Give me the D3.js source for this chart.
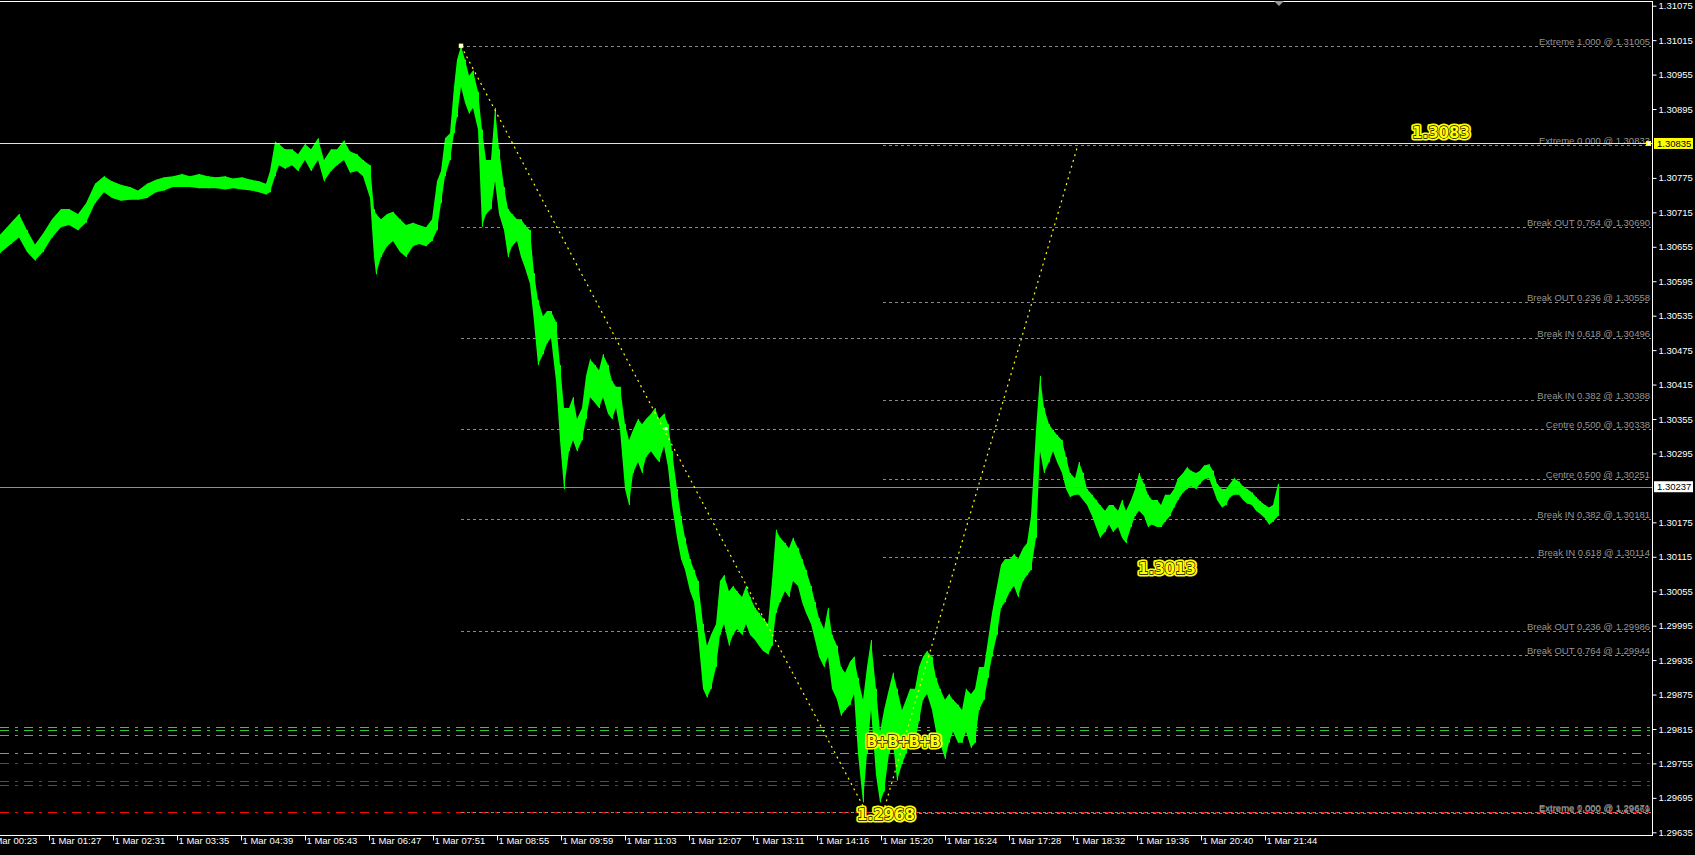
<!DOCTYPE html>
<html><head><meta charset="utf-8">
<script src="https://cdn.jsdelivr.net/npm/d3@7"></script>
<style>html,body{margin:0;padding:0;background:#000;overflow:hidden}</style>
</head><body><svg id="c" width="1695" height="855"></svg>
<script>
// ---------- DATA ----------
// bar time = minutes since 1 Mar 00:00 (bar index based)
const barTimes = [38,49,57,65,73,81,90,99,107,116,124,133,142,150,159,168,176,185,194,202,211,220,228,237,246,254,263,271,280,289,297,304,
308,313,317,323,330,336,343,349,356,362,369,375,382,388,395,401,408,412,414,419,425,431,438,444,451,457,464,470,475,479,483,488,
492,495,499,503,507,511,516,520,524,529,533,537,542,546,550,555,559,563,568,572,576,581,585,589,594,598,602,607,611,615,620,624,
628,633,637,641,646,650,654,658,663,667,671,676,680,684,689,693,697,702,706,710,715,719,723,728,732,736,741,745,749,754,758,762,
767,771,775,780,784,788,793,797,801,806,810,814,818,823,827,831,836,840,844,849,853,857,862,866,870,875,879,883,888,892,896,901,
905,909,914,918,922,927,931,935,940,944,948,953,957,961,965,970,974,978,983,987,991,996,1000,1004,1009,1013,1017,1022,1026,1030,1035,1039,
1043,1048,1052,1056,1061,1065,1069,1074,1078,1082,1087,1091,1095,1100,1104,1108,1113,1117,1121,1125,1130,1134,1138,1143,1147,1151,1156,1160,1164,1169,
1173,1177,1182,1186,1190,1195,1199,1203,1208,1212,1216,1221,1225,1229,1234,1238,1242,1247,1251,1255,1260,1264,1268,1272,1277,1281,1285,1290,1294,1298,1303,1307,
1311,1316];
const barHighs = [1.30676,1.30697,1.30712,1.30684,1.30659,1.30678,1.30703,1.30721,1.30721,1.30712,1.30731,1.30765,1.30778,1.30769,1.30763,1.30759,
1.30753,1.30765,1.30772,1.30776,1.30778,1.30782,1.30778,1.30782,1.30778,1.30776,1.30778,1.30774,1.30776,1.30772,1.30769,1.30765,
1.30787,1.30838,1.30834,1.30825,1.30825,1.30816,1.30834,1.30825,1.30844,1.30806,1.30825,1.30825,1.30840,1.30821,1.30816,1.30806,
1.30797,1.30721,1.30712,1.30703,1.30712,1.30716,1.30703,1.30693,1.30697,1.30693,1.30689,1.30703,1.30769,1.30787,1.30844,1.30853,
1.30934,1.30981,1.31005,1.30981,1.30953,1.30962,1.30925,1.30859,1.30806,1.30806,1.30897,1.30825,1.30759,1.30721,1.30712,1.30703,
1.30703,1.30693,1.30684,1.30609,1.30562,1.30534,1.30543,1.30543,1.30524,1.30449,1.30374,1.30374,1.30393,1.30355,1.30374,1.30430,
1.30459,1.30449,1.30440,1.30468,1.30449,1.30421,1.30411,1.30411,1.30346,1.30318,1.30336,1.30355,1.30346,1.30355,1.30364,1.30374,
1.30355,1.30364,1.30346,1.30299,1.30233,1.30186,1.30148,1.30111,1.30092,1.30073,1.29998,1.29960,1.29979,1.29998,1.30073,1.30083,
1.30055,1.30064,1.30055,1.30045,1.30064,1.30045,1.30026,1.30017,1.30008,1.29998,1.30073,1.30162,1.30148,1.30139,1.30130,1.30148,
1.30130,1.30111,1.30092,1.30064,1.30036,1.30008,1.29989,1.30026,1.29979,1.29960,1.29923,1.29913,1.29932,1.29941,1.29904,1.29866,
1.29923,1.29970,1.29885,1.29810,1.29848,1.29885,1.29913,1.29885,1.29848,1.29866,1.29885,1.29885,1.29923,1.29941,1.29951,1.29941,
1.29904,1.29885,1.29866,1.29876,1.29866,1.29857,1.29848,1.29885,1.29876,1.29885,1.29923,1.29923,1.29970,1.30017,1.30064,1.30101,
1.30111,1.30111,1.30120,1.30111,1.30130,1.30139,1.30186,1.30336,1.30430,1.30374,1.30346,1.30336,1.30327,1.30318,1.30289,1.30261,
1.30252,1.30280,1.30261,1.30233,1.30223,1.30214,1.30205,1.30195,1.30205,1.30205,1.30195,1.30214,1.30195,1.30214,1.30233,1.30261,
1.30242,1.30223,1.30214,1.30214,1.30205,1.30223,1.30223,1.30233,1.30252,1.30261,1.30271,1.30265,1.30261,1.30265,1.30274,1.30276,
1.30265,1.30242,1.30233,1.30233,1.30242,1.30252,1.30246,1.30238,1.30233,1.30227,1.30219,1.30212,1.30205,1.30201,1.30205,1.30242];
const barLows = [1.30644,1.30660,1.30671,1.30646,1.30631,1.30646,1.30671,1.30689,1.30693,1.30684,1.30697,1.30731,1.30750,1.30740,1.30735,1.30737,
1.30737,1.30740,1.30750,1.30753,1.30759,1.30759,1.30759,1.30757,1.30757,1.30757,1.30755,1.30757,1.30755,1.30753,1.30750,1.30746,
1.30750,1.30778,1.30797,1.30791,1.30797,1.30787,1.30806,1.30787,1.30806,1.30769,1.30787,1.30797,1.30806,1.30784,1.30787,1.30778,
1.30740,1.30637,1.30607,1.30637,1.30656,1.30665,1.30646,1.30637,1.30656,1.30660,1.30656,1.30665,1.30684,1.30731,1.30778,1.30806,
1.30853,1.30881,1.30934,1.30906,1.30887,1.30897,1.30859,1.30690,1.30712,1.30721,1.30769,1.30712,1.30684,1.30637,1.30656,1.30665,
1.30637,1.30618,1.30590,1.30524,1.30449,1.30468,1.30487,1.30496,1.30421,1.30318,1.30233,1.30299,1.30318,1.30299,1.30318,1.30355,
1.30393,1.30383,1.30374,1.30393,1.30364,1.30355,1.30374,1.30336,1.30233,1.30205,1.30261,1.30280,1.30261,1.30289,1.30299,1.30289,
1.30280,1.30308,1.30271,1.30205,1.30148,1.30111,1.30092,1.30055,1.30036,1.29979,1.29885,1.29870,1.29885,1.29923,1.29979,1.29998,
1.29960,1.29979,1.29989,1.29979,1.29998,1.29979,1.29970,1.29960,1.29951,1.29945,1.29960,1.30017,1.30036,1.30055,1.30045,1.30073,
1.30064,1.30036,1.30017,1.29998,1.29970,1.29941,1.29923,1.29941,1.29885,1.29866,1.29838,1.29848,1.29857,1.29876,1.29772,1.29687,
1.29772,1.29848,1.29735,1.29687,1.29706,1.29772,1.29791,1.29725,1.29754,1.29772,1.29791,1.29791,1.29829,1.29866,1.29876,1.29848,
1.29810,1.29791,1.29763,1.29791,1.29810,1.29791,1.29791,1.29810,1.29782,1.29791,1.29848,1.29866,1.29904,1.29941,1.29979,1.30026,
1.30036,1.30055,1.30064,1.30045,1.30073,1.30083,1.30092,1.30148,1.30299,1.30261,1.30280,1.30299,1.30280,1.30261,1.30233,1.30219,
1.30223,1.30223,1.30214,1.30205,1.30186,1.30167,1.30148,1.30158,1.30171,1.30158,1.30167,1.30148,1.30139,1.30167,1.30186,1.30195,
1.30186,1.30167,1.30171,1.30167,1.30167,1.30176,1.30186,1.30201,1.30214,1.30227,1.30233,1.30238,1.30233,1.30242,1.30250,1.30252,
1.30233,1.30214,1.30201,1.30205,1.30219,1.30223,1.30223,1.30214,1.30208,1.30205,1.30195,1.30190,1.30182,1.30171,1.30176,1.30186];

const priceTicks = [1.31075,1.31015,1.30955,1.30895,1.30775,1.30715,1.30655,1.30595,1.30535,1.30475,1.30415,1.30355,1.30295,
  1.30175,1.30115,1.30055,1.29995,1.29935,1.29875,1.29815,1.29755,1.29695,1.29635];
const timeTickMinutes = [23,87,151,215,279,343,407,471,535,599,663,727,791,855,919,983,1047,1111,1175,1239,1303];
const timeTickLabels = ["1 Mar 00:23","1 Mar 01:27","1 Mar 02:31","1 Mar 03:35","1 Mar 04:39","1 Mar 05:43","1 Mar 06:47",
  "1 Mar 07:51","1 Mar 08:55","1 Mar 09:59","1 Mar 11:03","1 Mar 12:07","1 Mar 13:11","1 Mar 14:16","1 Mar 15:20",
  "1 Mar 16:24","1 Mar 17:28","1 Mar 18:32","1 Mar 19:36","1 Mar 20:40","1 Mar 21:44"];

const fibDownPrices = [1.31005,1.30690,1.30496,1.30338,1.30181,1.29986,1.29671];
const fibDownLabels = ["Extreme 1.000 @ 1.31005","Break OUT 0.764 @ 1.30690","Break IN 0.618 @ 1.30496","Centre 0.500 @ 1.30338",
  "Break IN 0.382 @ 1.30181","Break OUT 0.236 @ 1.29986","Extreme 0.000 @ 1.29671"];
const fibDownStart = 499;
const fibUpPrices = [1.30833,1.30558,1.30388,1.30251,1.30114,1.29944,1.29669];
const fibUpLabels = ["Extreme 0.000 @ 1.30833","Break OUT 0.236 @ 1.30558","Break IN 0.382 @ 1.30388","Centre 0.500 @ 1.30251",
  "Break IN 0.618 @ 1.30114","Break OUT 0.764 @ 1.29944","Extreme 1.000 @ 1.29669"];
const fibUpStart = 921;

const zigTimes = [499, 904];
const zigPrices = [1.31005, 1.29671];
const zig2Times = [921, 1116];
const zig2Prices = [1.29669, 1.30833];
const midMarker = [704, 1.30338];

const greenLevels = [1.29818, 1.29813, 1.29804, 1.29774];
const redLevels = [1.29755, 1.29724, 1.29717, 1.29670];

const yellowLevel = 1.30835;
const bidLevel = 1.30237;

const annoTexts = ["1.3083","1.2968","1.3013","B+B+B+B"];
// ---------- LAYOUT ----------
const W = 1695, H = 855;
const plotR = 1652, plotB = 835;
const annoPos = [[1412,138],[857,820],[1138,574],[866,747]];

const svg = d3.select("#c");
svg.append("rect").attr("width",W).attr("height",H).attr("fill","#000");

const x = d3.scaleLinear().domain([38, 38+plotR]).range([0, plotR]);
const y = d3.scaleLinear().domain([1.29635, 1.31075]).range([832.3, 5.7]);

const font = "'Liberation Sans', Arial, sans-serif";
const plot = svg.append("g");
plot.append("clipPath").attr("id","clip").append("rect").attr("x",0).attr("y",0).attr("width",plotR).attr("height",plotB);
const g = plot.append("g").attr("clip-path","url(#clip)");

// coloured dash-dot levels
g.selectAll(".gl").data(greenLevels).join("line")
  .attr("x1",0).attr("x2",plotR).attr("y1",d=>Math.round(y(d))+0.5).attr("y2",d=>Math.round(y(d))+0.5)
  .attr("stroke","#32cd32").attr("stroke-width",1).attr("stroke-dasharray","9,6,3,6");
g.selectAll(".rl").data(redLevels).join("line")
  .attr("x1",0).attr("x2",plotR).attr("y1",d=>Math.round(y(d))+0.5).attr("y2",d=>Math.round(y(d))+0.5)
  .attr("stroke","#ff0000").attr("stroke-width",1).attr("stroke-dasharray","9,6,3,6");

// fib dashed lines
function fibSet(prices, labels, start){
  prices.forEach((p,i)=>{
    const yy = Math.round(y(p))+0.5;
    g.append("line").attr("x1",x(start)).attr("x2",plotR-1).attr("y1",yy).attr("y2",yy)
      .attr("stroke","#8a8a8a").attr("stroke-width",1).attr("stroke-dasharray","3,3");
    g.append("text").attr("x",plotR-2).attr("y",yy-2).attr("text-anchor","end")
      .attr("font-family",font).attr("font-size","9.5px").attr("fill","#939393").text(labels[i]);
  });
}
fibSet(fibDownPrices, fibDownLabels, fibDownStart);
fibSet(fibUpPrices, fibUpLabels, fibUpStart);

// price bars (high-low band)
const bars = d3.range(Math.min(barTimes.length, barHighs.length, barLows.length))
  .map(i=>({t:barTimes[i], h:barHighs[i], l:barLows[i]}));
g.append("path").datum(bars)
  .attr("d", d3.area().x(d=>x(d.t)).y0(d=>y(d.l)).y1(d=>y(d.h)))
  .attr("fill","#00ff00");
g.selectAll(".bar").data(bars).join("line")
  .attr("x1",d=>Math.round(x(d.t))+0.5).attr("x2",d=>Math.round(x(d.t))+0.5)
  .attr("y1",d=>y(d.h)).attr("y2",d=>y(d.l)).attr("stroke","#00ff00").attr("stroke-width",1);

// yellow level & bid line
g.append("line").attr("x1",0).attr("x2",plotR).attr("y1",Math.round(y(yellowLevel))+0.5).attr("y2",Math.round(y(yellowLevel))+0.5)
  .attr("stroke","#ffff00").attr("stroke-width",1);
g.append("line").attr("x1",0).attr("x2",plotR).attr("y1",Math.round(y(bidLevel))+0.5).attr("y2",Math.round(y(bidLevel))+0.5)
  .attr("stroke","#8191a8").attr("stroke-width",1);

// zigzag dotted lines
[[zigTimes,zigPrices],[zig2Times,zig2Prices]].forEach(([ts,ps])=>{
  g.append("line").attr("x1",x(ts[0])).attr("y1",y(ps[0])).attr("x2",x(ts[1])).attr("y2",y(ps[1]))
    .attr("stroke","#ffff00").attr("stroke-width",1.2).attr("stroke-dasharray","2,4");
});
// markers
g.append("rect").attr("x",x(zigTimes[0])-2).attr("y",y(zigPrices[0])-2).attr("width",4).attr("height",4)
  .attr("fill","#fff").attr("stroke","#ffff00").attr("stroke-width",0.5);
g.append("rect").attr("x",x(midMarker[0])-1.5).attr("y",y(midMarker[1])-1.5).attr("width",3).attr("height",3).attr("fill","#fff");
g.append("rect").attr("x",plotR-5.5).attr("y",Math.round(y(yellowLevel))-1.5).attr("width",4).attr("height",4)
  .attr("fill","#fff").attr("stroke","#ffff00").attr("stroke-width",1);

// annotations
const annoFont = "'DejaVu Sans', Verdana, sans-serif";
annoTexts.forEach((t,i)=>{
  const [ax,ay] = annoPos[i];
  const ls = t.indexOf("+")>=0 ? "-1.4px" : "0px";
  svg.append("text").attr("x",ax).attr("y",ay).attr("font-family",annoFont).attr("font-weight","bold")
    .attr("font-size","15px").attr("letter-spacing",ls).attr("fill","#ffff00").attr("stroke","#ffff00")
    .attr("stroke-width",5).attr("stroke-linejoin","round").text(t);
  svg.append("text").attr("x",ax).attr("y",ay).attr("font-family",annoFont).attr("font-weight","bold")
    .attr("font-size","15px").attr("letter-spacing",ls).attr("fill","#ffff00").attr("stroke","#000")
    .attr("stroke-width",1.3).attr("paint-order","stroke").text(t);
});

// frame
svg.append("line").attr("x1",0).attr("x2",plotR+0.5).attr("y1",1.5).attr("y2",1.5).attr("stroke","#fff");
svg.append("line").attr("x1",plotR+0.5).attr("x2",plotR+0.5).attr("y1",1).attr("y2",plotB+1).attr("stroke","#fff");
svg.append("line").attr("x1",0).attr("x2",plotR+1).attr("y1",plotB+0.5).attr("y2",plotB+0.5).attr("stroke","#fff");

// right axis
const yAxisG = svg.append("g").attr("transform",`translate(${plotR+0.5},0)`)
  .call(d3.axisRight(y).tickValues(priceTicks).tickSize(4).tickPadding(2).tickFormat(d3.format(".5f")));
yAxisG.select(".domain").remove();
yAxisG.selectAll("line").attr("stroke","#fff");
yAxisG.selectAll("text").attr("fill","#fff").attr("font-family",font).attr("font-size","9.5px");

// bottom axis
const xAxisG = svg.append("g").attr("transform",`translate(0,${plotB+0.5})`)
  .call(d3.axisBottom(x).tickValues(timeTickMinutes).tickSize(5).tickFormat((d,i)=>timeTickLabels[i]));
xAxisG.select(".domain").remove();
xAxisG.selectAll("line").attr("stroke","#fff");
xAxisG.selectAll("text").attr("fill","#fff").attr("font-family",font).attr("font-size","9.5px")
  .attr("text-anchor","start").attr("dx","1").attr("dy","0.1em");

// price boxes
function priceBox(p, bg, txt){
  const yy = y(p);
  svg.append("rect").attr("x",plotR+2).attr("y",yy-5.5).attr("width",39).attr("height",11).attr("fill",bg);
  svg.append("text").attr("x",plotR+5).attr("y",yy+3.5).attr("font-family",font).attr("font-size","9.5px")
    .attr("fill","#000").text(txt);
}
priceBox(yellowLevel, "#ffff00", d3.format(".5f")(yellowLevel));
priceBox(bidLevel, "#ffffff", d3.format(".5f")(bidLevel));

// shift marker
svg.append("path").attr("d",`M${x(1317)-5},1 L${x(1317)+5},1 L${x(1317)},6 Z`).attr("fill","#9a9a9a");
</script></body></html>
